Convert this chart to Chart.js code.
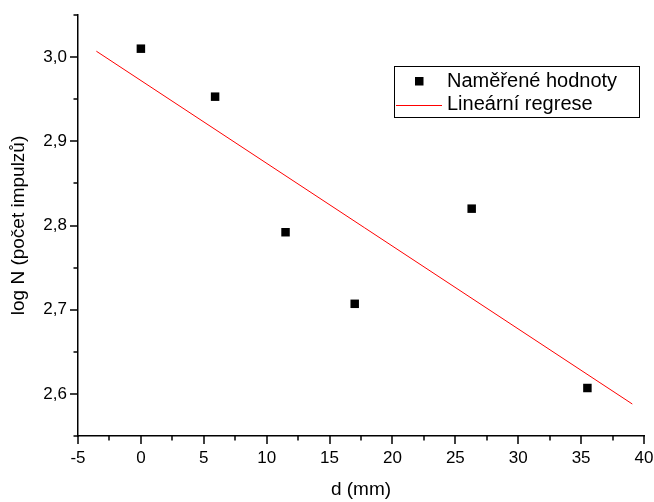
<!DOCTYPE html>
<html>
<head>
<meta charset="utf-8">
<script src="https://cdn.jsdelivr.net/npm/chart.js@4.4.0/dist/chart.umd.min.js"></script>
<style>
    body { margin: 0; background: #fff; }
    canvas { display: block; }
</style>
</head>
<body>
<canvas id="RegChart" width="654" height="502"></canvas>
<script>
var measuredX = [0, 5.9, 11.5, 17, 26.3, 35.5];
var measuredY = [3.010, 2.953, 2.792, 2.707, 2.820, 2.607];
var fitX = [-3.54, 39.07];
var fitY = [3.007, 2.588];

var xTicks = [-5, 0, 5, 10, 15, 20, 25, 30, 35, 40];
var xMinorTicks = [-2.5, 2.5, 7.5, 12.5, 17.5, 22.5, 27.5, 32.5, 37.5];
var yTicks = [2.6, 2.7, 2.8, 2.9, 3.0];
var yMinorTicks = [2.55, 2.65, 2.75, 2.85, 2.95, 3.05];

var seriesLabels = ['Naměřené hodnoty', 'Lineární regrese'];

var FONT = '"Liberation Sans", Arial, sans-serif';

function ToPoints(xs, ys) {
    return xs.map(function (x, i) { return { x: x, y: ys[i] }; });
}

// no automatic label overflow padding, plot area comes from layout.padding only
function NoScalePadding(scale) {
    scale.paddingTop = 0;
    scale.paddingBottom = 0;
    scale.paddingLeft = 0;
    scale.paddingRight = 0;
}

// tick marks, major and minor, drawn outside the axes
var tickMarks = {
    id: 'tickMarks',
    afterDraw: function (chart) {
        var ctx = chart.ctx;
        var xs = chart.scales.x, ys = chart.scales.y;
        var area = chart.chartArea;
        ctx.save();
        ctx.strokeStyle = '#000';
        ctx.lineWidth = 1.5;
        ctx.beginPath();
        xTicks.forEach(function (v) {
            var p = Math.round(xs.getPixelForValue(v));
            ctx.moveTo(p, area.bottom); ctx.lineTo(p, area.bottom + 8);
        });
        xMinorTicks.forEach(function (v) {
            var p = Math.round(xs.getPixelForValue(v));
            ctx.moveTo(p, area.bottom); ctx.lineTo(p, area.bottom + 4.5);
        });
        yTicks.forEach(function (v) {
            var p = Math.round(ys.getPixelForValue(v));
            ctx.moveTo(area.left, p); ctx.lineTo(area.left - 8, p);
        });
        yMinorTicks.forEach(function (v) {
            var p = Math.round(ys.getPixelForValue(v));
            ctx.moveTo(area.left, p); ctx.lineTo(area.left - 4.5, p);
        });
        ctx.stroke();
        ctx.restore();
    }
};

// legend box inside the plot, top right
var boxLegend = {
    id: 'boxLegend',
    afterDraw: function (chart) {
        var ctx = chart.ctx;
        var ds = chart.data.datasets;
        var bx = 394.5, by = 66.5, bw = 245, bh = 51;
        ctx.save();
        ctx.strokeStyle = '#000';
        ctx.lineWidth = 1;
        ctx.strokeRect(bx, by, bw, bh);

        ctx.fillStyle = ds[0].backgroundColor;
        ctx.fillRect(415, 77, 8.5, 8.5);

        ctx.strokeStyle = ds[1].borderColor;
        ctx.beginPath();
        ctx.moveTo(396, 105.5); ctx.lineTo(442, 105.5);
        ctx.stroke();

        ctx.fillStyle = '#000';
        ctx.font = '20px ' + FONT;
        ctx.textBaseline = 'middle';
        ctx.fillText(ds[0].label, 447, 81);
        ctx.fillText(ds[1].label, 447, 104);
        ctx.restore();
    }
};

function InitializeChart() {
    return new Chart(document.getElementById('RegChart'), {
        type: 'scatter',
        data: {
            datasets: [{
                label: seriesLabels[0],
                data: ToPoints(measuredX, measuredY),
                backgroundColor: '#000',
                borderWidth: 0,
                pointStyle: 'rect',
                pointRadius: 6,
                pointHoverRadius: 6
            }, {
                type: 'line',
                label: seriesLabels[1],
                data: ToPoints(fitX, fitY),
                borderColor: '#ff0000',
                borderWidth: 1,
                pointRadius: 0,
                fill: false
            }]
        },
        options: {
            responsive: false,
            animation: false,
            layout: { padding: { top: 15, right: 10, left: 0, bottom: 0 } },
            plugins: {
                legend: { display: false },
                tooltip: { enabled: false }
            },
            scales: {
                x: {
                    type: 'linear',
                    min: -5,
                    max: 40,
                    afterFit: function (scale) {
                        scale.height = 66;
                        NoScalePadding(scale);
                    },
                    afterBuildTicks: function (scale) {
                        scale.ticks = xTicks.map(function (v) { return { value: v }; });
                    },
                    grid: { display: false, drawTicks: false },
                    border: { display: true, color: '#000', width: 1.5 },
                    ticks: {
                        color: '#000',
                        padding: 12,
                        maxRotation: 0,
                        font: { family: FONT, size: 17 }
                    },
                    title: {
                        display: true,
                        text: 'd (mm)',
                        color: '#000',
                        padding: { top: 0, bottom: 1 },
                        font: { family: FONT, size: 19 }
                    }
                },
                y: {
                    type: 'linear',
                    min: 2.55,
                    max: 3.05,
                    afterFit: function (scale) {
                        scale.width = 78;
                        NoScalePadding(scale);
                    },
                    afterBuildTicks: function (scale) {
                        scale.ticks = yTicks.map(function (v) { return { value: v }; });
                    },
                    grid: { display: false, drawTicks: false },
                    border: { display: true, color: '#000', width: 1.5 },
                    ticks: {
                        color: '#000',
                        padding: 11,
                        font: { family: FONT, size: 17 },
                        callback: function (v) { return v.toFixed(1).replace('.', ','); }
                    },
                    title: {
                        display: true,
                        text: 'log N (počet impulzů)',
                        color: '#000',
                        padding: { top: 7, bottom: 0 },
                        font: { family: FONT, size: 19 }
                    }
                }
            }
        },
        plugins: [tickMarks, boxLegend]
    });
}

InitializeChart();
</script>
</body>
</html>
